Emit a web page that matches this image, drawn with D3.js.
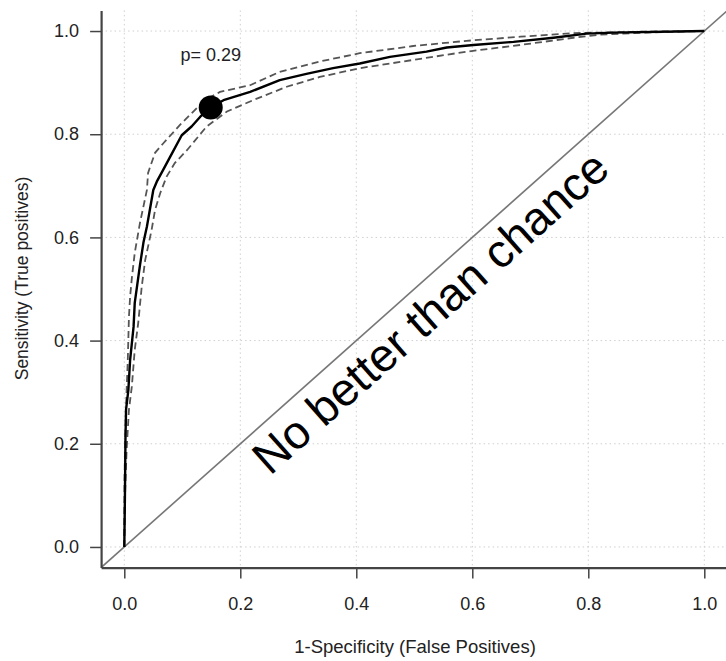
<!DOCTYPE html>
<html>
<head>
<meta charset="utf-8">
<script src="https://cdn.jsdelivr.net/npm/d3@7"></script>
<style>
body { margin: 0; background: #fff; }
svg { display: block; font-family: 'Liberation Sans', Arial, Helvetica, sans-serif; }
</style>
</head>
<body>
<div id="chart"></div>
<script>
// ROC curve (1-specificity, sensitivity)
var rocFpr = [0, 0.001, 0.002, 0.003, 0.007, 0.010, 0.016, 0.018, 0.027, 0.033, 0.039, 0.044, 0.050, 0.056, 0.067, 0.079, 0.099, 0.116, 0.131, 0.149, 0.171, 0.217, 0.268, 0.314, 0.360, 0.406, 0.458, 0.521, 0.556, 0.602, 0.671, 0.740, 0.797, 0.843, 1];
var rocTpr = [0, 0.091, 0.207, 0.266, 0.304, 0.362, 0.427, 0.473, 0.546, 0.590, 0.621, 0.653, 0.692, 0.708, 0.731, 0.756, 0.798, 0.815, 0.834, 0.852, 0.866, 0.882, 0.905, 0.917, 0.928, 0.937, 0.950, 0.960, 0.968, 0.973, 0.979, 0.987, 0.995, 0.997, 1];

// upper confidence band
var upperFpr = [0, 0.0003, 0.002, 0.004, 0.006, 0.008, 0.010, 0.013, 0.018, 0.027, 0.039, 0.041, 0.053, 0.067, 0.096, 0.119, 0.139, 0.165, 0.217, 0.268, 0.337, 0.406, 0.498, 0.590, 0.683, 0.774, 0.820, 0.906, 1];
var upperTpr = [0, 0.130, 0.227, 0.304, 0.362, 0.446, 0.485, 0.521, 0.570, 0.628, 0.692, 0.725, 0.764, 0.782, 0.818, 0.844, 0.866, 0.882, 0.895, 0.921, 0.941, 0.957, 0.971, 0.981, 0.989, 0.996, 0.997, 0.999, 1];

// lower confidence band
var lowerFpr = [0, 0.001, 0.004, 0.008, 0.013, 0.018, 0.024, 0.030, 0.036, 0.047, 0.053, 0.062, 0.073, 0.087, 0.108, 0.142, 0.177, 0.222, 0.280, 0.337, 0.406, 0.498, 0.590, 0.683, 0.774, 0.820, 0.901, 1];
var lowerTpr = [0, 0.091, 0.188, 0.266, 0.311, 0.382, 0.434, 0.504, 0.556, 0.614, 0.653, 0.686, 0.718, 0.744, 0.769, 0.815, 0.844, 0.866, 0.892, 0.911, 0.928, 0.944, 0.960, 0.973, 0.987, 0.993, 0.997, 1];

var cutPoint = [0.149, 0.852];
var cutLabel = 'p= 0.29';
var chanceAnchor = [0.546, 0.432];
var chanceLabel = 'No better than chance';

var tickValues = [0, 0.2, 0.4, 0.6, 0.8, 1.0];
var xTitle = '1-Specificity (False Positives)';
var yTitle = 'Sensitivity (True positives)';

var width = 726, height = 661;

var x = d3.scaleLinear().domain([-0.04, 1.04]).range([101.1, 727.5]);
var y = d3.scaleLinear().domain([-0.04, 1.04]).range([567.6, 10.4]);

var svg = d3.select('#chart')
	.append('svg')
	.attr('width', width)
	.attr('height', height);

svg.append('defs').append('clipPath')
	.attr('id', 'plotclip')
	.append('rect')
	.attr('x', x(-0.04))
	.attr('y', y(1.04))
	.attr('width', x(1.04) - x(-0.04))
	.attr('height', y(-0.04) - y(1.04));

// grid
var grid = svg.append('g').attr('class', 'grid');
grid.selectAll('.vg')
	.data(tickValues)
	.enter()
	.append('line')
	.attr('x1', d => x(d)).attr('x2', d => x(d))
	.attr('y1', y(1.04)).attr('y2', y(-0.04))
	.attr('stroke', '#cfcfcf')
	.attr('stroke-width', 1)
	.attr('stroke-dasharray', '1.5,3');
grid.selectAll('.hg')
	.data(tickValues)
	.enter()
	.append('line')
	.attr('y1', d => y(d)).attr('y2', d => y(d))
	.attr('x1', x(-0.04)).attr('x2', x(1.04))
	.attr('stroke', '#cfcfcf')
	.attr('stroke-width', 1)
	.attr('stroke-dasharray', '1.5,3');

var plot = svg.append('g').attr('clip-path', 'url(#plotclip)');

// chance line
plot.append('line')
	.attr('x1', x(-0.04)).attr('y1', y(-0.04))
	.attr('x2', x(1.04)).attr('y2', y(1.04))
	.attr('stroke', '#777')
	.attr('stroke-width', 1.6);

var line = d3.line()
	.x(d => x(d[0]))
	.y(d => y(d[1]));

plot.append('path')
	.datum(d3.zip(upperFpr, upperTpr))
	.attr('d', line)
	.attr('fill', 'none')
	.attr('stroke', '#555')
	.attr('stroke-width', 1.8)
	.attr('stroke-dasharray', '7,4');

plot.append('path')
	.datum(d3.zip(lowerFpr, lowerTpr))
	.attr('d', line)
	.attr('fill', 'none')
	.attr('stroke', '#555')
	.attr('stroke-width', 1.8)
	.attr('stroke-dasharray', '7,4');

plot.append('path')
	.datum(d3.zip(rocFpr, rocTpr))
	.attr('d', line)
	.attr('fill', 'none')
	.attr('stroke', '#000')
	.attr('stroke-width', 2.4)
	.attr('stroke-linejoin', 'round');

plot.append('circle')
	.attr('cx', x(cutPoint[0]))
	.attr('cy', y(cutPoint[1]))
	.attr('r', 12)
	.attr('fill', '#000');

svg.append('text')
	.attr('x', x(cutPoint[0]))
	.attr('y', y(cutPoint[1]) - 46)
	.attr('text-anchor', 'middle')
	.attr('font-size', 18)
	.attr('fill', '#222')
	.text(cutLabel);

var angle = Math.atan2(y(0) - y(1), x(1) - x(0)) * 180 / Math.PI;
svg.append('text')
	.attr('transform', 'translate(' + x(chanceAnchor[0]) + ',' + y(chanceAnchor[1]) + ') rotate(' + (-angle) + ')')
	.attr('text-anchor', 'middle')
	.attr('font-size', 46.5)
	.attr('fill', '#000')
	.text(chanceLabel);

// axes
var xAxis = svg.append('g')
	.attr('transform', 'translate(0,' + y(-0.04) + ')')
	.call(d3.axisBottom(x).tickValues(tickValues).tickFormat(d3.format('.1f')).tickSize(11).tickSizeOuter(0));
var yAxis = svg.append('g')
	.attr('transform', 'translate(' + x(-0.04) + ',0)')
	.call(d3.axisLeft(y).tickValues(tickValues).tickFormat(d3.format('.1f')).tickSize(11).tickSizeOuter(0));

[xAxis, yAxis].forEach(function(a) {
	a.select('.domain').attr('stroke', '#444').attr('stroke-width', 2.2);
	a.selectAll('.tick line').attr('stroke', '#444').attr('stroke-width', 1.5);
	a.selectAll('.tick text')
		.attr('font-size', 18)
		.attr('font-family', "'Liberation Sans', Arial, sans-serif")
		.attr('fill', '#222');
});
xAxis.selectAll('.tick text').attr('y', 30);
yAxis.selectAll('.tick text').attr('x', -22);

svg.append('text')
	.attr('x', 415)
	.attr('y', 653)
	.attr('text-anchor', 'middle')
	.attr('font-size', 18.5)
	.attr('fill', '#222')
	.text(xTitle);

svg.append('text')
	.attr('transform', 'translate(28,' + 278.5 + ') rotate(-90)')
	.attr('text-anchor', 'middle')
	.attr('font-size', 17.5)
	.attr('fill', '#222')
	.text(yTitle);
</script>
</body>
</html>
